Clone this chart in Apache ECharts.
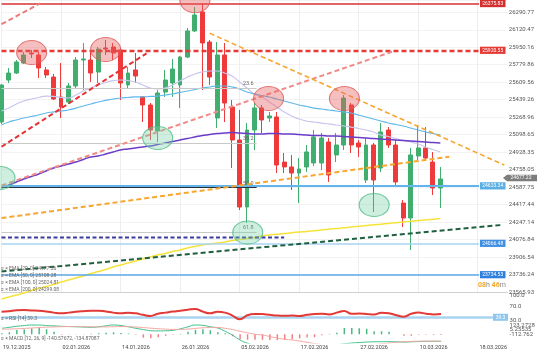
<!DOCTYPE html>
<html><head><meta charset="utf-8">
<script src="https://cdn.jsdelivr.net/npm/echarts@6/dist/echarts.min.js"></script>
<style>html,body{margin:0;padding:0;background:#fff}#c{width:537px;height:357px}</style>
</head><body><div id="c"></div>
<script>
// ---------- DATA ----------
const dates = ['17.12.2025','18.12.2025','19.12.2025','22.12.2025','23.12.2025','24.12.2025','26.12.2025','29.12.2025','30.12.2025','31.12.2025',
'02.01.2026','05.01.2026','06.01.2026','07.01.2026','08.01.2026','09.01.2026','12.01.2026','13.01.2026','14.01.2026','15.01.2026',
'16.01.2026','19.01.2026','20.01.2026','21.01.2026','22.01.2026','23.01.2026','26.01.2026','27.01.2026','28.01.2026','29.01.2026',
'30.01.2026','02.02.2026','03.02.2026','04.02.2026','05.02.2026','06.02.2026','09.02.2026','10.02.2026','11.02.2026','12.02.2026',
'13.02.2026','16.02.2026','17.02.2026','18.02.2026','19.02.2026','20.02.2026','23.02.2026','24.02.2026','25.02.2026','26.02.2026',
'27.02.2026','02.03.2026','03.03.2026','04.03.2026','05.03.2026','06.03.2026','08.03.2026','09.03.2026','10.03.2026','11.03.2026',
'12.03.2026','13.03.2026','14.03.2026','15.03.2026','16.03.2026','17.03.2026','18.03.2026','19.03.2026','20.03.2026'];

const open  = [25222,25631,25699,25797,25894,25875,25729,25660,25466,25417,25573,25826,25826,25709,25943,25953,25924,25583,25729,25466,25388,25134,25514,25602,25583,25855,26109,26294,26001,25261,25875,25368,25047,24394,25144,25359,25261,25271,24832,24784,24725,24784,24823,24823,25027,24901,24998,25388,25018,24657,24998,24774,25144,24998,24432,24287,24891,24969,24832,24579];
const close = [25582,25699,25807,25875,25885,25748,25680,25446,25368,25573,25826,25836,25699,25933,25933,25894,25602,25699,25670,25388,25144,25505,25631,25738,25855,26109,26265,25992,25660,25875,25407,25047,24394,25144,25359,25242,25281,24803,24784,24725,24764,24930,25076,25066,24706,24998,25456,24998,24979,24998,24657,25125,24998,24638,24287,24901,24969,24871,24579,24667];
const low   = [25203,25602,25690,25787,25846,25651,25651,25436,25261,25397,25553,25534,25612,25602,25875,25826,25436,25553,25602,25222,25047,25027,25466,25466,25358,25846,26099,25534,25583,25164,25222,24774,24365,24238,24949,25115,25222,24725,24725,24560,24432,24735,24793,24755,24638,24832,24949,24920,24881,24628,24345,24735,24969,24608,24199,23975,24852,24852,24511,24384];
const high  = [25592,25748,25826,25904,25924,25904,25758,25690,25797,25602,25855,25992,25924,25953,26021,25992,25943,25758,25894,25475,25407,25534,25729,25836,25865,26138,26342,26381,26021,26001,25992,25436,25339,25212,25407,25388,25320,25320,24920,24901,24871,24998,25144,25115,25066,25115,25485,25407,25047,25066,25018,25212,25173,25047,24462,24969,25193,25173,24930,24784];

const ema20  = [25329,25358,25397,25427,25446,25461,25475,25471,25461,25456,25485,25524,25553,25583,25607,25626,25631,25626,25612,25583,25553,25544,25553,25583,25622,25660,25690,25709,25719,25719,25699,25670,25612,25553,25495,25466,25417,25368,25320,25281,25251,25232,25222,25212,25203,25193,25183,25173,25159,25144,25125,25095,25081,25061,25042,25027,25008,24979,24954,24930];
const ema50  = [25193,25222,25242,25261,25276,25290,25310,25320,25329,25339,25358,25378,25397,25417,25432,25446,25456,25461,25466,25466,25471,25475,25485,25495,25510,25524,25539,25553,25563,25573,25573,25563,25544,25514,25495,25480,25466,25446,25427,25407,25388,25373,25358,25349,25339,25329,25320,25310,25290,25271,25251,25232,25212,25198,25183,25164,25144,25125,25110,25095];
const ema100 = [24579,24608,24638,24667,24691,24716,24745,24774,24793,24813,24832,24857,24881,24891,24910,24930,24949,24959,24969,24979,24988,25003,25018,25032,25047,25061,25076,25091,25100,25110,25115,25120,25115,25110,25105,25105,25110,25110,25105,25105,25100,25095,25091,25091,25086,25086,25081,25076,25071,25066,25061,25057,25052,25047,25042,25037,25032,25027,25022,25018];
const ema200 = [23498,23517,23537,23556,23581,23600,23620,23639,23663,23683,23702,23722,23746,23766,23785,23810,23829,23848,23868,23887,23907,23926,23941,23960,23975,23995,24009,24024,24034,24043,24053,24068,24077,24087,24097,24112,24121,24128,24135,24143,24150,24156,24163,24170,24178,24185,24191,24199,24206,24213,24220,24226,24233,24241,24248,24255,24262,24268,24275,24282];

const rsi = [54.6,56,58.5,59,58,57,55,52,50,52,54.5,56,57,57.3,55,52,50,51.5,50,46,43,49,52,55,57,60,62,55,50,54.6,52,44,34,45,48.5,48,46,44,43.5,44,43,46,48.5,49,47,52,56.5,49,49.5,48.5,47,51.5,50,45,41,49,52,49,47,48];
const rsiLevel = 39.3;

const macdLine = [120,140,160,175,186,185,175,168,160,155,150,145,140,150,170,186,175,150,120,95,72,68,70,80,110,150,186,180,150,126,60,-20,-114,-180,-220,-250,-270,-290,-300,-300,-290,-280,-270,-250,-230,-210,-190,-175,-165,-155,-150,-148,-148,-150,-155,-150,-145,-142,-141,-140.58];
const macdSignal = [100,105,110,118,126,135,142,148,152,155,155,153,150,148,148,152,155,152,145,135,122,112,104,98,98,105,118,130,135,135,120,95,60,30,0,-14,-45,-75,-100,-114,-135,-160,-185,-205,-225,-240,-250,-245,-235,-220,-205,-190,-175,-160,-150,-142,-138,-136,-135,-134.87];
const macdHist = [20,40,86,100,120,132,100,52,-10,-5,5,8,10,20,30,40,25,15,-10,-68,-80,-60,-30,-10,10,50,90,100,80,40,20,-40,-100,-110,-110,-110,-114,-114,-110,-100,-80,-66,-60,-20,10,30,126,126,120,110,60,60,50,0,-30,-30,-10,-10,-15,-15];

const priceTicks = ['23565.93','23736.24','23906.54','24076.84','24247.14','24417.44','24587.75','24758.05','24928.35','25098.65','25268.96','25439.26','25609.56','25779.86','25950.16','26120.47','26290.77'];
const rsiTicks = ['30.0','70.0','100.0'];
const macdTicks = ['-112.762','5.25535','123.2728'];

const fibNames  = ['23.6','38.2','50.0','61.8','78.6'];
const fibPrices = [25553,25017,24584,24150,23546];

const levelPrices = [26375.83,25920.55,24600.0,24040.0,23734.53];
const levelLabels = ['26375.83','25920.55','24623.34','24066.48','23734.53'];
const lastPriceTag = 24677.22;

// trend lines [xIndex, price]
const redChannelLow  = [[0,24981],[19.5,25891]];
const redChannelHigh = [[0,26175],[5.2,26378]];
const salmonTrend    = [[0,24604],[52.5,25907]];
const orangeDown     = [[28,26086],[67.6,24803]];
const orangeUp       = [[0,24286],[60.2,24884]];
const darkGreenTrend = [[0,23765],[67.3,24219]];
const navyLevel      = [[0,24097],[38,24097]];

// annotation ellipses [xIndex, price]
const redMarks   = [[4.05,25899],[14,25928],[26,26405],[35.9,25451],[46.1,25451]];
const greenMarks = [[-0.2,24676],[21,25066],[33.1,24145],[50.1,24413]];

const legendLines = ['EMA [20, 0] 24977.26','EMA [50, 0] 25108.28','EMA [100, 0] 25024.81','EMA [200, 0] 24299.08'];
const rsiLegend = 'RSI [14] 39.3';
const macdLegend = 'MACD [12, 26, 9] -140.57672, -134.87087';
const timerText = ['08','h ','46','m'];

// ---------- CHART ----------
const chart = echarts.init(document.getElementById('c'));
const N = dates.length;
const FONT = 'Roboto, sans-serif';
const UP = '#3fae6e', DOWN = '#ee3a3a';
const L = 1.5, R = 28.9;
const pick = (arr, v, tol) => { for (const s of arr) { if (Math.abs(parseFloat(s) - v) < tol) return s; } return ''; };

function trend(data, color, width, dash, opacity) {
  return { type:'line', xAxisIndex:1, yAxisIndex:0, data, symbol:'none', silent:true, z:6,
    lineStyle:{ color, width, type:dash, opacity: opacity == null ? 1 : opacity }, animation:false };
}
const lbl = (extra) => Object.assign({margin:1.5, fontSize:6, color:'#555', fontFamily:FONT, hideOverlap:false, showMinLabel:true, showMaxLabel:true}, extra);

const option = {
  animation:false,
  grid:[
    {left:L, right:R, top:0, height:292},
    {left:L, right:R, top:295, height:25.7},
    {left:L, right:R, top:323, height:20},
    {left:L, right:R, top:325, height:9}
  ],
  xAxis:[
    {type:'category', gridIndex:0, data:dates, boundaryGap:false,
     axisLine:{show:true, lineStyle:{color:'#cfcfcf', width:1}}, axisTick:{show:false}, axisLabel:{show:false},
     splitLine:{show:true, interval:(i)=>i%8===0, lineStyle:{color:'#eeeeee', width:1}}},
    {type:'value', gridIndex:0, min:0, max:N-1, show:false},
    {type:'category', gridIndex:1, data:dates, boundaryGap:false, show:false},
    {type:'category', gridIndex:2, data:dates, boundaryGap:false,
     axisLine:{show:false}, axisTick:{show:false},
     axisLabel:{interval:(i)=>i%8===2, fontSize:5.5, color:'#444', margin:1.5, fontFamily:FONT, hideOverlap:false}},
    {type:'value', gridIndex:3, min:0, max:1, show:false}
  ],
  yAxis:[
    {type:'value', gridIndex:0, position:'right', min:23565.93, max:26410.6, interval:170.3025,
     axisLine:{show:false}, axisTick:{show:false},
     splitLine:{show:true, lineStyle:{color:'#f3f3f3'}},
     axisLabel:lbl({formatter:v=>pick(priceTicks, v, 2)})},
    {type:'value', gridIndex:1, position:'right', min:30, max:100, interval:10,
     axisLine:{show:false}, axisTick:{show:false}, splitLine:{show:false},
     axisLabel:lbl({formatter:v=>pick(rsiTicks, v, 0.5)})},
    {type:'value', gridIndex:2, min:-174, max:226, show:false},
    {type:'value', gridIndex:3, position:'right', min:-112.762, max:123.2728,
     axisLine:{show:false}, axisTick:{show:false}, splitLine:{show:false}, axisLabel:{show:false}}
  ],
  series:[
    {type:'candlestick', xAxisIndex:0, yAxisIndex:0, barWidth:4.4, z:3,
     data: open.map((o,i)=>[o, close[i], low[i], high[i]]),
     itemStyle:{color:UP, color0:DOWN, borderColor:UP, borderColor0:DOWN, borderWidth:1}},
    {type:'line', xAxisIndex:0, yAxisIndex:0, data:ema20, symbol:'none', smooth:true, z:4, lineStyle:{color:'#c9c6ee', width:1.2}},
    {type:'line', xAxisIndex:0, yAxisIndex:0, data:ema50, symbol:'none', smooth:true, z:4, lineStyle:{color:'#5fb8ea', width:1.2}},
    {type:'line', xAxisIndex:0, yAxisIndex:0, data:ema100, symbol:'none', smooth:true, z:4, lineStyle:{color:'#6a3cc8', width:1.5}},
    {type:'line', xAxisIndex:0, yAxisIndex:0, data:ema200, symbol:'none', smooth:true, z:4, clip:false, lineStyle:{color:'#f6e33a', width:1.5}},
    {type:'line', xAxisIndex:1, yAxisIndex:0, data:[], clip:false, z:5,
     markLine:{symbol:['none','none'], silent:true, animation:false,
       data: fibPrices.map((p,i)=>[
         {coord:[0,p], name:fibNames[i], lineStyle:{color: fibNames[i]==='50.0' ? '#2b2f3a' : '#c9c9c9', width: fibNames[i]==='78.6' ? 1.5 : 1, type:'solid'}},
         {coord:[34.3,p]}]),
       label:{show:true, position:'insideEndTop', formatter:p=>p.name, fontSize:5.5, color:'#666', distance:[3,1], fontFamily:FONT}}},
    {type:'line', xAxisIndex:1, yAxisIndex:0, data:[], z:5,
     markLine:{symbol:['none','none'], silent:true, animation:false, label:{show:false},
       data:[
         [{coord:[0,levelPrices[0]], lineStyle:{color:'#d93030', width:1.6, type:'solid'}},{coord:[64.2,levelPrices[0]]}],
         [{coord:[0,levelPrices[1]], lineStyle:{color:'#e53935', width:2.4, type:[5,3]}},{coord:[64.2,levelPrices[1]]}],
         [{coord:[0,levelPrices[2]], lineStyle:{color:'#62b5ea', width:2, type:'solid'}},{coord:[64.2,levelPrices[2]]}],
         [{coord:[0,levelPrices[3]], lineStyle:{color:'#a8d3f2', width:1.5, type:'solid'}},{coord:[64.2,levelPrices[3]]}],
         [{coord:[0,levelPrices[4]], lineStyle:{color:'#5aa8ea', width:1.5, type:'solid'}},{coord:[64.2,levelPrices[4]]}]
       ]}},
    trend(navyLevel, '#3b3b9e', 2.2, [4,2.5]),
    trend(redChannelLow, '#e63232', 2, [5,3]),
    trend(redChannelHigh, '#ee7b78', 2, [5,3]),
    trend(salmonTrend, '#f08a86', 2, [5,3]),
    trend(orangeDown, '#f7a630', 1.6, [5,3]),
    trend(orangeUp, '#f7a630', 2, [5,3]),
    trend(darkGreenTrend, '#1f5e3e', 2, [5,3]),
    {type:'scatter', xAxisIndex:1, yAxisIndex:0, clip:false, z:8, silent:true,
     data: redMarks, symbol:'circle', symbolSize:[30,24],
     itemStyle:{color:'rgba(232,96,96,0.5)', borderColor:'#dc5a5a', borderWidth:1}},
    {type:'scatter', xAxisIndex:1, yAxisIndex:0, clip:false, z:8, silent:true,
     data: greenMarks, symbol:'circle', symbolSize:[30,23],
     itemStyle:{color:'rgba(120,210,165,0.45)', borderColor:'#52bb8a', borderWidth:1}},
    {type:'line', xAxisIndex:2, yAxisIndex:1, data:rsi, symbol:'none', smooth:true, z:5,
     lineStyle:{color:'#e23a36', width:2},
     markLine:{symbol:['none','none'], silent:true, label:{show:false},
       data:[{yAxis:rsiLevel, lineStyle:{color:'#a9d4f0', width:2.5, type:'solid'}}]}},
    {type:'bar', xAxisIndex:3, yAxisIndex:2, barWidth:1.5,
     data: macdHist.map(v=>({value:v, itemStyle:{color: v>=0 ? '#4cb87f' : '#f28080'}}))},
    {type:'line', xAxisIndex:3, yAxisIndex:2, data:macdLine, symbol:'none', smooth:true, lineStyle:{color:'#3cc08a', width:1}},
    {type:'line', xAxisIndex:3, yAxisIndex:2, data:macdSignal, symbol:'none', smooth:true, lineStyle:{color:'#f5a5a0', width:1}}
  ]
};
chart.setOption(option);

// ---------- overlay labels ----------
const py = v => chart.convertToPixel({yAxisIndex:0}, v);
const levelColors = ['#d32f2f','#e53935','#5aaee3','#3f8fe3','#2f7fde'];
const g = [];
const T = (x, y, text, extra) => ({type:'text', z:101, x, y, style:Object.assign({text, fill:'#fff', fontSize:5, fontFamily:FONT, align:'center', verticalAlign:'middle', textAlign:'center', textVerticalAlign:'middle'}, extra||{})});
levelPrices.forEach((v,i)=>{
  const y = py(v);
  g.push({type:'rect', z:100, shape:{x:480, y:y-3.6, width:25.5, height:7.2}, style:{fill:levelColors[i]}});
  g.push(T(492.7, y, levelLabels[i]));
});
const ry = chart.convertToPixel({yAxisIndex:1}, rsiLevel);
g.push({type:'rect', z:100, shape:{x:493, y:ry-3.5, width:15, height:7}, style:{fill:'#8fc7ee'}});
g.push(T(500.5, ry, String(rsiLevel)));
const ty = py(lastPriceTag);
g.push({type:'polygon', z:100, shape:{points:[[503,ty],[507,ty-3.2],[537,ty-3.2],[537,ty+3.2],[507,ty+3.2]]}, style:{fill:'#7d7d7d'}});
g.push(T(521, ty, lastPriceTag.toFixed(2)));
// MACD scale labels placed through the label axis scale
const axisT = {fill:'#555', fontSize:6, align:'left', textAlign:'left'};
macdTicks.forEach(s=>{
  const y = chart.convertToPixel({yAxisIndex:3}, parseFloat(s));
  g.push(T(509.6, y, s, axisT));
});
g.push({type:'text', z:101, x:478, y:285, style:{rich:{o:{fill:'#f5a623', fontSize:7, fontWeight:'bold', fontFamily:FONT}, n:{fill:'#888', fontSize:7, fontFamily:FONT}},
  text:'{o|'+timerText[0]+'}{n|'+timerText[1]+'}{o|'+timerText[2]+'}{n|'+timerText[3]+'}', verticalAlign:'middle', textVerticalAlign:'middle'}});
const legY = [269, 276, 283, 289.5];
const leftT = {fill:'#666', align:'left', textAlign:'left'};
legendLines.forEach((t,i)=>{ g.push(T(1, legY[i], '≡ × '+t, leftT)); });
g.push(T(1, 319, '≡ × '+rsiLegend, leftT));
g.push(T(1, 338.5, '≡ × '+macdLegend, leftT));
chart.setOption({graphic:g});
</script>
</body></html>
